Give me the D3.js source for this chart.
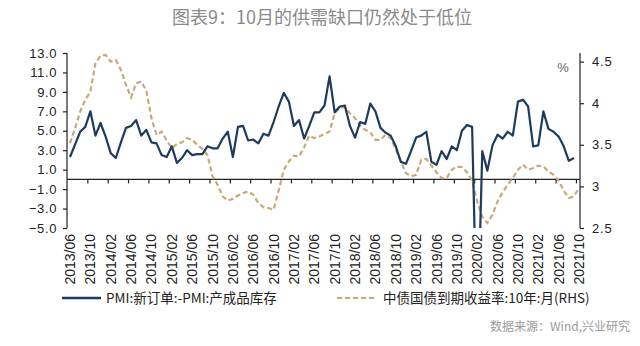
<!DOCTYPE html>
<html>
<head>
<meta charset="utf-8">
<script src="https://cdn.jsdelivr.net/npm/d3@7/dist/d3.min.js"></script>
<style>
  html, body { margin: 0; padding: 0; background: #fff; }
  svg { display: block; }
  .num { font-family: "Liberation Sans", Arial, sans-serif; }
  .cjk { font-family: "Noto Sans CJK SC", "Noto Sans", sans-serif; }
</style>
</head>
<body>
<svg id="chart" width="640" height="346"></svg>
<script>
// Monthly categories 2013/06 – 2021/10
const months = d3.timeMonth
  .range(new Date(2013, 5, 1), new Date(2021, 10, 1))
  .map(d3.timeFormat("%Y/%m"));

const tickLabels = [
  "2013/06","2013/10","2014/02","2014/06","2014/10","2015/02","2015/06","2015/10",
  "2016/02","2016/06","2016/10","2017/02","2017/06","2017/10","2018/02","2018/06",
  "2018/10","2019/02","2019/06","2019/10","2020/02","2020/06","2020/10","2021/02",
  "2021/06","2021/10"
];

// PMI new orders minus PMI finished-goods inventory (left axis), 2013/06 – 2021/09
const pmiGap = [
  2.3, 3.6, 4.9, 5.4, 7.0, 4.5, 5.8, 4.4, 2.7, 2.2,
  3.8, 5.3, 5.5, 6.1, 4.5, 5.1, 3.8, 3.7, 2.5, 2.3,
  3.4, 1.7, 2.2, 3.0, 2.5, 2.6, 2.6, 3.4, 3.2, 3.2,
  4.2, 4.9, 2.3, 5.4, 5.5, 4.0, 4.1, 3.7, 4.7, 4.5,
  5.9, 7.5, 8.9, 8.0, 5.5, 6.1, 4.2, 5.5, 6.9, 6.9,
  7.6, 10.6, 6.9, 7.5, 7.6, 5.5, 4.3, 5.9, 5.7, 7.8,
  7.0, 5.3, 4.8, 4.5, 3.4, 1.8, 1.6, 2.9, 4.3, 4.5,
  4.9, 1.8, 1.5, 2.9, 2.1, 3.4, 3.0, 5.0, 5.6, 5.4,
  -16.8, 2.9, 0.9, 3.5, 4.6, 4.2, 4.9, 4.5, 8.0, 8.2,
  7.5, 3.4, 3.5, 7.0, 5.2, 4.9, 4.4, 3.4, 1.9, 2.2
];

// China government bond 10Y yield, monthly (right axis, %), 2013/06 – 2021/10
const bondYield = [
  3.52, 3.70, 3.90, 4.04, 4.14, 4.48, 4.57, 4.58, 4.50, 4.52,
  4.40, 4.22, 4.07, 4.24, 4.26, 4.15, 3.82, 3.62, 3.66, 3.55,
  3.46, 3.51, 3.53, 3.58, 3.56, 3.50, 3.45, 3.38, 3.12, 3.02,
  2.88, 2.83, 2.85, 2.89, 2.92, 2.94, 2.90, 2.80, 2.75, 2.74,
  2.72, 2.95, 3.20, 3.30, 3.37, 3.36, 3.47, 3.61, 3.58, 3.60,
  3.63, 3.66, 3.88, 3.95, 3.95, 3.88, 3.82, 3.73, 3.68, 3.65,
  3.56, 3.56, 3.62, 3.58, 3.45, 3.30, 3.16, 3.12, 3.14, 3.32,
  3.33, 3.25, 3.17, 3.10, 3.10, 3.20, 3.24, 3.23, 3.17, 3.07,
  2.82, 2.63, 2.56, 2.66, 2.82, 2.93, 3.02, 3.10, 3.20, 3.26,
  3.20, 3.22, 3.25, 3.24, 3.18, 3.14, 3.07, 2.95, 2.86, 2.88,
  2.98
];

const leftTicks = [13, 11, 9, 7, 5, 3, 1, -1, -3, -5];
const rightTicks = [4.5, 4, 3.5, 3, 2.5];

const titleText = "图表9：10月的供需缺口仍然处于低位";
const seriesNames = ["PMI:新订单:-PMI:产成品库存", "中债国债到期收益率:10年:月(RHS)"];
const sourceText = "数据来源：Wind,兴业研究";

const colors = { gap: "#1d3b5c", yield: "#c8a97c", axis: "#222", title: "#8a8a8a" };

const svg = d3.select("#chart");
const plot = { left: 67, right: 580, top: 53, bottom: 228 };

const x = d3.scalePoint().domain(months).range([70, 579]);
const yL = d3.scaleLinear().domain([-5, 13]).range([plot.bottom, plot.top]);
const yR = d3.scaleLinear().domain([2.5, 4.5]).range([plot.bottom, 61.6]);

// Title
svg.append("text").attr("class", "cjk")
  .attr("x", 322).attr("y", 24)
  .attr("text-anchor", "middle")
  .attr("font-size", 18)
  .attr("fill", colors.title)
  .text(titleText);

// Clip region for the series
svg.append("defs").append("clipPath").attr("id", "plotClip")
  .append("rect")
  .attr("x", plot.left).attr("y", plot.top)
  .attr("width", plot.right - plot.left).attr("height", plot.bottom - plot.top);

// Left axis
const gL = svg.append("g").attr("transform", `translate(${plot.left},0)`);
gL.call(d3.axisLeft(yL).tickValues(leftTicks).tickFormat(d3.format(".1f")).tickSize(4).tickPadding(6));
gL.select(".domain").attr("d", `M0,${plot.top}V${plot.bottom}`).attr("stroke", colors.axis).attr("stroke-width", 1.2);
gL.selectAll(".tick line").attr("stroke", colors.axis).attr("stroke-width", 1.2);
gL.selectAll(".tick text").attr("class", "num").attr("font-size", 13).attr("fill", "#222")
  .attr("letter-spacing", 0.6);

// Right axis
const gR = svg.append("g").attr("transform", `translate(${plot.right},0)`);
gR.call(d3.axisRight(yR).tickValues(rightTicks).tickFormat(d => String(d)).tickSize(4).tickPadding(8));
gR.select(".domain").attr("d", `M0,${plot.top}V${plot.bottom}`).attr("stroke", colors.axis).attr("stroke-width", 1.2);
gR.selectAll(".tick line").attr("stroke", colors.axis).attr("stroke-width", 1.2);
gR.selectAll(".tick text").attr("class", "num").attr("font-size", 13).attr("fill", "#222")
  .attr("letter-spacing", 0.8);

// Unit label
svg.append("text").attr("class", "num")
  .attr("x", 563).attr("y", 72)
  .attr("text-anchor", "middle")
  .attr("font-size", 13)
  .attr("fill", "#666")
  .text("%");

// Category axis along zero
const y0 = yL(0);
const step = x.step();
const gX = svg.append("g");
gX.append("line")
  .attr("x1", plot.left).attr("x2", plot.right)
  .attr("y1", y0).attr("y2", y0)
  .attr("stroke", colors.axis).attr("stroke-width", 1.2);
gX.selectAll("line.tick").data(tickLabels.slice(1)).join("line")
  .attr("class", "tick")
  .attr("x1", d => x(d) - step / 2).attr("x2", d => x(d) - step / 2)
  .attr("y1", y0).attr("y2", y0 + 4)
  .attr("stroke", colors.axis).attr("stroke-width", 1.2);

// Rotated month labels below the plot
svg.append("g").selectAll("text").data(tickLabels).join("text")
  .attr("class", "num")
  .attr("transform", d => `translate(${x(d)},${plot.bottom + 6}) rotate(-90)`)
  .attr("text-anchor", "end")
  .attr("dy", "0.36em")
  .attr("font-size", 14)
  .attr("fill", "#222")
  .text(d => d);

// Series
const series = svg.append("g").attr("clip-path", "url(#plotClip)");

const lineL = d3.line().x((d, i) => x(months[i])).y(d => yL(d));
const lineR = d3.line().x((d, i) => x(months[i])).y(d => yR(d));

series.append("path")
  .datum(bondYield)
  .attr("d", lineR)
  .attr("fill", "none")
  .attr("stroke", colors.yield)
  .attr("stroke-width", 2.2)
  .attr("stroke-dasharray", "5,3");

series.append("path")
  .datum(pmiGap)
  .attr("d", lineL)
  .attr("fill", "none")
  .attr("stroke", colors.gap)
  .attr("stroke-width", 2.2)
  .attr("stroke-linejoin", "round");

// Legend
const legend = svg.append("g");
const legY = 298;
legend.append("line")
  .attr("x1", 62).attr("x2", 101).attr("y1", legY).attr("y2", legY)
  .attr("stroke", colors.gap).attr("stroke-width", 2.4);
legend.append("text").attr("class", "cjk")
  .attr("x", 106).attr("y", legY).attr("dy", "0.35em")
  .attr("font-size", 13.5).attr("fill", "#222")
  .text(seriesNames[0]);
legend.append("line")
  .attr("x1", 337).attr("x2", 377).attr("y1", legY).attr("y2", legY)
  .attr("stroke", colors.yield).attr("stroke-width", 2.2)
  .attr("stroke-dasharray", "5,3");
legend.append("text").attr("class", "cjk")
  .attr("x", 383).attr("y", legY).attr("dy", "0.35em")
  .attr("font-size", 13.5).attr("fill", "#222")
  .text(seriesNames[1]);

// Source note
svg.append("text").attr("class", "cjk")
  .attr("x", 630).attr("y", 327).attr("dy", "0.35em")
  .attr("text-anchor", "end")
  .attr("font-size", 12)
  .attr("fill", "#9a9a9a")
  .text(sourceText);
</script>
</body>
</html>
